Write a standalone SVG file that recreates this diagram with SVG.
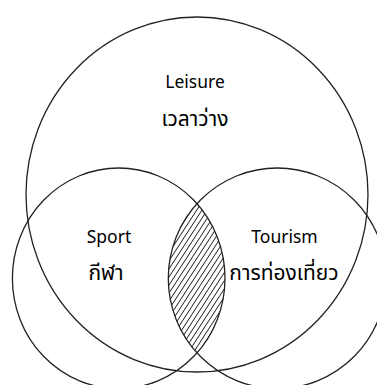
<svg xmlns="http://www.w3.org/2000/svg" width="377" height="385" viewBox="0 0 377 385">
  <style>
    .ring { fill: none; stroke: #222; stroke-width: 1.3; }
    .lbl { font-family: "Noto Sans", "Noto Sans Thai", "DejaVu Sans", sans-serif; font-size: 17.5px; fill: #000; text-anchor: middle; }
    .th { font-size: 21px; }
  </style>
  <defs>
    <pattern id="hatch" width="8" height="4.4" patternUnits="userSpaceOnUse" patternTransform="rotate(-57)">
      <line x1="0" y1="2.2" x2="8" y2="2.2" stroke="#222" stroke-width="0.9"/>
    </pattern>
    <clipPath id="sportClip">
      <ellipse cx="118.7" cy="278.3" rx="106.3" ry="110.3"/>
    </clipPath>
  </defs>
  <rect width="377" height="385" fill="#ffffff"/>
  <g id="overlap">
    <ellipse cx="277.3" cy="278.3" rx="109" ry="110.3" fill="url(#hatch)" clip-path="url(#sportClip)"/>
  </g>
  <g id="connectors"></g>
  <g id="leisure">
    <ellipse class="ring" cx="197" cy="194.5" rx="171" ry="177.5"/>
    <text class="lbl" x="195" y="88">Leisure</text>
    <text class="lbl th" x="195" y="126">เวลาว่าง</text>
  </g>
  <g id="sport">
    <ellipse class="ring" cx="118.7" cy="278.3" rx="106.3" ry="110.3"/>
    <text class="lbl" x="109" y="243">Sport</text>
    <text class="lbl th" x="106" y="280">กีฬา</text>
  </g>
  <g id="tourism">
    <ellipse class="ring" cx="277.3" cy="278.3" rx="109" ry="110.3"/>
    <text class="lbl" x="284.5" y="243">Tourism</text>
    <text class="lbl th" x="284" y="280">การท่องเที่ยว</text>
  </g>
</svg>
